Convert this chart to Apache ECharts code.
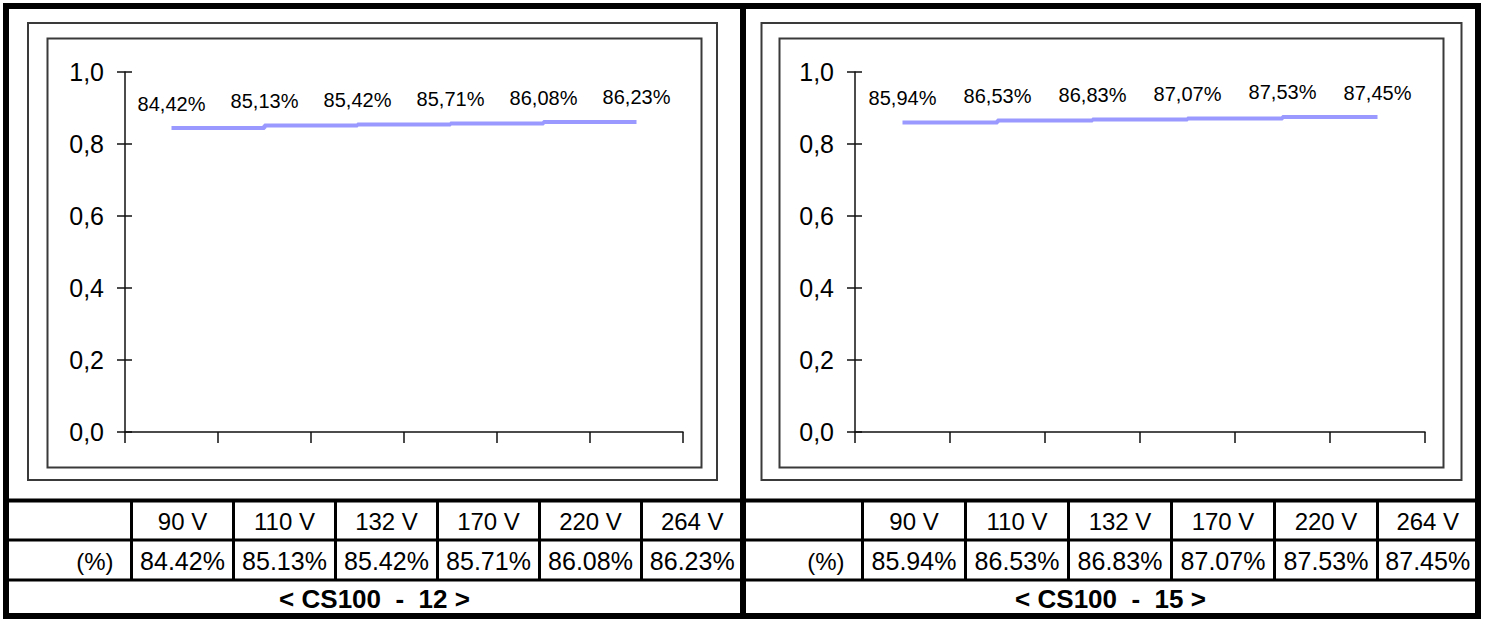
<!DOCTYPE html>
<html>
<head>
<meta charset="utf-8">
<script src="https://cdn.jsdelivr.net/npm/echarts@6/dist/echarts.min.js"></script>
<style>
html,body{margin:0;padding:0;background:#fff;}
#chart{width:1490px;height:619px;}
</style>
</head>
<body>
<div id="chart"></div>
<script>
// ---- data ----
const categories = ['90 V', '110 V', '132 V', '170 V', '220 V', '264 V'];
const effCS100_12 = [84.42, 85.13, 85.42, 85.71, 86.08, 86.23];
const effCS100_15 = [85.94, 86.53, 86.83, 87.07, 87.53, 87.45];
const panelTitles = ['< CS100  -  12 >', '< CS100  -  15 >'];
const rowLabel = '(%)';
const yMin = 0, yMax = 1.0, yStep = 0.2;

// ---- layout ----
const FONT = '"Liberation Sans", Arial, sans-serif';
const panels = [
  { data: effCS100_12, title: panelTitles[0],
    grid: { left: 125, top: 72, width: 558, height: 360 },
    outer: [28, 23, 689, 457], inner: [47.5, 38.5, 654, 429],
    seps: [131.5, 233.5, 335.5, 437.5, 539.5, 641.5, 743], titleX: 374.5 },
  { data: effCS100_15, title: panelTitles[1],
    grid: { left: 855, top: 72, width: 570, height: 360 },
    outer: [761.5, 23, 700, 457], inner: [779.5, 38.5, 664, 429],
    seps: [862.5, 965.5, 1068.5, 1171.5, 1274.5, 1377.5, 1478], titleX: 1110.5 }
];

const fmtComma = (v, d) => v.toFixed(d).replace('.', ',');

const grids = [], xAxes = [], yAxes = [], series = [], graphics = [];

panels.forEach((p, i) => {
  grids.push(Object.assign({}, p.grid));
  xAxes.push({
    type: 'category', gridIndex: i, data: categories, boundaryGap: true,
    axisLine: { lineStyle: { color: '#111', width: 1.5 } },
    axisTick: { show: true, inside: false, length: 11, interval: 0, lineStyle: { color: '#111', width: 1.5 } },
    axisLabel: { show: false }, splitLine: { show: false }
  });
  yAxes.push({
    type: 'value', gridIndex: i, min: yMin, max: yMax, interval: yStep,
    axisLine: { show: true, lineStyle: { color: '#111', width: 1.5 } },
    axisTick: { show: true, inside: false, length: 8, lineStyle: { color: '#111', width: 1.5 } },
    axisLabel: { margin: 21, fontSize: 25, fontFamily: FONT, color: '#000',
      formatter: v => fmtComma(v, 1) },
    splitLine: { show: false }
  });
  yAxes.push({
    type: 'value', gridIndex: i, min: yMin, max: yMax, interval: yStep, position: 'left',
    axisLine: { show: false },
    axisTick: { show: true, inside: true, length: 7, lineStyle: { color: '#111', width: 1.5 } },
    axisLabel: { show: false }, splitLine: { show: false }
  });
  series.push({
    type: 'line', xAxisIndex: i, yAxisIndex: i * 2, step: 'end',
    data: p.data.map(v => v / 100),
    symbol: 'circle', symbolSize: 1, showSymbol: true,
    itemStyle: { color: 'rgba(0,0,0,0)' },
    lineStyle: { color: '#9999FF', width: 4, cap: 'butt' },
    label: { show: true, position: 'top', distance: 14, fontSize: 20, fontFamily: FONT, color: '#000',
      formatter: prm => fmtComma(p.data[prm.dataIndex], 2) + '%' },
    emphasis: { disabled: true }, silent: true, animation: false
  });

  // chart frames
  graphics.push({ type: 'rect', shape: { x: p.outer[0], y: p.outer[1], width: p.outer[2], height: p.outer[3] },
    style: { fill: null, stroke: '#3a3a3a', lineWidth: 2 }, silent: true });
  graphics.push({ type: 'rect', shape: { x: p.inner[0], y: p.inner[1], width: p.inner[2], height: p.inner[3] },
    style: { fill: null, stroke: '#3a3a3a', lineWidth: 2 }, silent: true });

  // table separators
  p.seps.slice(0, 6).forEach(x => {
    graphics.push({ type: 'line', shape: { x1: x, y1: 500, x2: x, y2: 580 },
      style: { stroke: '#000', lineWidth: 3 }, silent: true });
  });
  // table text
  categories.forEach((c, k) => {
    const cx = (p.seps[k] + p.seps[k + 1]) / 2;
    graphics.push({ type: 'text', x: cx, y: 521, silent: true,
      style: { text: c, font: '24px ' + FONT, fill: '#000', align: 'center', verticalAlign: 'middle' } });
    graphics.push({ type: 'text', x: cx, y: 561, silent: true,
      style: { text: p.data[k].toFixed(2) + '%', font: '25px ' + FONT, fill: '#000', align: 'center', verticalAlign: 'middle' } });
  });
  graphics.push({ type: 'text', x: p.seps[0] - 18, y: 561, silent: true,
    style: { text: rowLabel, font: '24px ' + FONT, fill: '#000', align: 'right', verticalAlign: 'middle' } });
  graphics.push({ type: 'text', x: p.titleX, y: 599, silent: true,
    style: { text: p.title, font: 'bold 26px ' + FONT, fill: '#000', align: 'center', verticalAlign: 'middle' } });
});

// table horizontal lines and outer borders
graphics.push({ type: 'line', shape: { x1: 6, y1: 500.5, x2: 1478, y2: 500.5 }, style: { stroke: '#000', lineWidth: 4 }, silent: true });
graphics.push({ type: 'line', shape: { x1: 6, y1: 540, x2: 1478, y2: 540 }, style: { stroke: '#000', lineWidth: 3 }, silent: true });
graphics.push({ type: 'line', shape: { x1: 6, y1: 580, x2: 1478, y2: 580 }, style: { stroke: '#000', lineWidth: 3 }, silent: true });
graphics.push({ type: 'line', shape: { x1: 743, y1: 6, x2: 743, y2: 616 }, style: { stroke: '#000', lineWidth: 6 }, silent: true });
graphics.push({ type: 'rect', shape: { x: 6, y: 6, width: 1472, height: 610 }, style: { fill: null, stroke: '#000', lineWidth: 6 }, silent: true });

const chart = echarts.init(document.getElementById('chart'), null, { renderer: 'svg' });
chart.setOption({
  animation: false,
  backgroundColor: '#fff',
  grid: grids, xAxis: xAxes, yAxis: yAxes, series: series,
  graphic: { elements: graphics }
});
</script>
</body>
</html>
